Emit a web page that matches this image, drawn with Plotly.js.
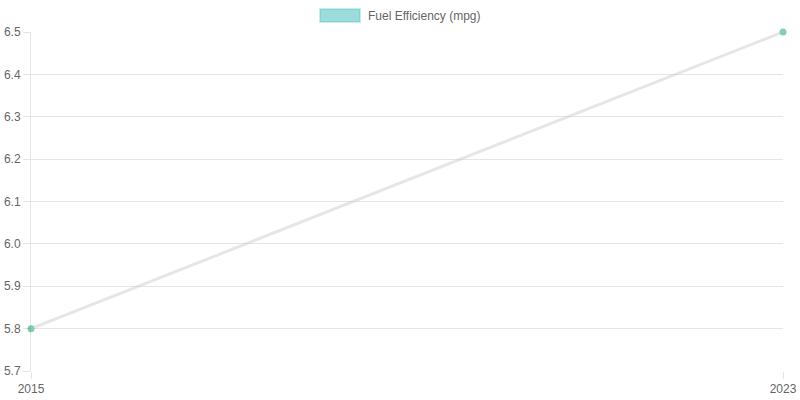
<!DOCTYPE html>
<html><head><meta charset="utf-8">
<script src="https://cdn.plot.ly/plotly-3.0.1.min.js"></script>
<style>html,body{margin:0;padding:0;background:#fff}#chart{width:800px;height:400px}</style>
</head><body><div id="chart"></div>
<script>
const years = [2015, 2023];
const fuelEfficiency = [5.8, 6.5];
const seriesName = 'Fuel Efficiency (mpg)';
const yTicks = [5.7, 5.8, 5.9, 6.0, 6.1, 6.2, 6.3, 6.4, 6.5];

const grid = 'rgba(0,0,0,0.1)';
const data = [{
  x: years, y: fuelEfficiency, type: 'scatter', mode: 'lines+markers',
  name: seriesName, showlegend: false, cliponaxis: false,
  line: {color: 'rgba(200,200,200,0.45)', width: 3},
  marker: {color: '#80cfb2', size: 7}
}];
const layout = {
  width: 800, height: 400,
  margin: {l: 31, r: 17, t: 32, b: 29},
  paper_bgcolor: '#fff', plot_bgcolor: '#fff',
  font: {family: 'Liberation Sans, Arial, sans-serif', size: 12, color: '#666'},
  xaxis: {range: [years[0], years[years.length-1]], tickvals: years, ticktext: years.map(String),
    showgrid: true, gridcolor: grid, zeroline: false, showline: false,
    ticks: 'outside', ticklen: 7, tickcolor: grid, tickfont: {color: '#666', size: 12}},
  yaxis: {range: [5.7, 6.5], tickvals: yTicks, ticktext: yTicks.map(v => v.toFixed(1)),
    showgrid: true, gridcolor: grid, zeroline: false, showline: true, linecolor: grid,
    ticks: 'outside', ticklen: 7, tickcolor: grid, tickfont: {color: '#666', size: 12}},
  shapes: [
    {type: 'rect', xref: 'paper', yref: 'paper',
     x0: (320-31)/752, x1: (360-31)/752, y0: (371-22)/339, y1: (371-9)/339,
     fillcolor: 'rgba(75,192,192,0.55)', line: {color: 'rgba(75,192,192,0.3)', width: 2}},
  ],
  annotations: [{xref: 'paper', yref: 'paper', x: (366-31)/752, y: (371-15.5)/339,
    xanchor: 'left', yanchor: 'middle',
    text: seriesName, showarrow: false, font: {color: '#666', size: 12}}],
};
Plotly.newPlot('chart', data, layout, {displayModeBar: false, staticPlot: true});
</script></body></html>
